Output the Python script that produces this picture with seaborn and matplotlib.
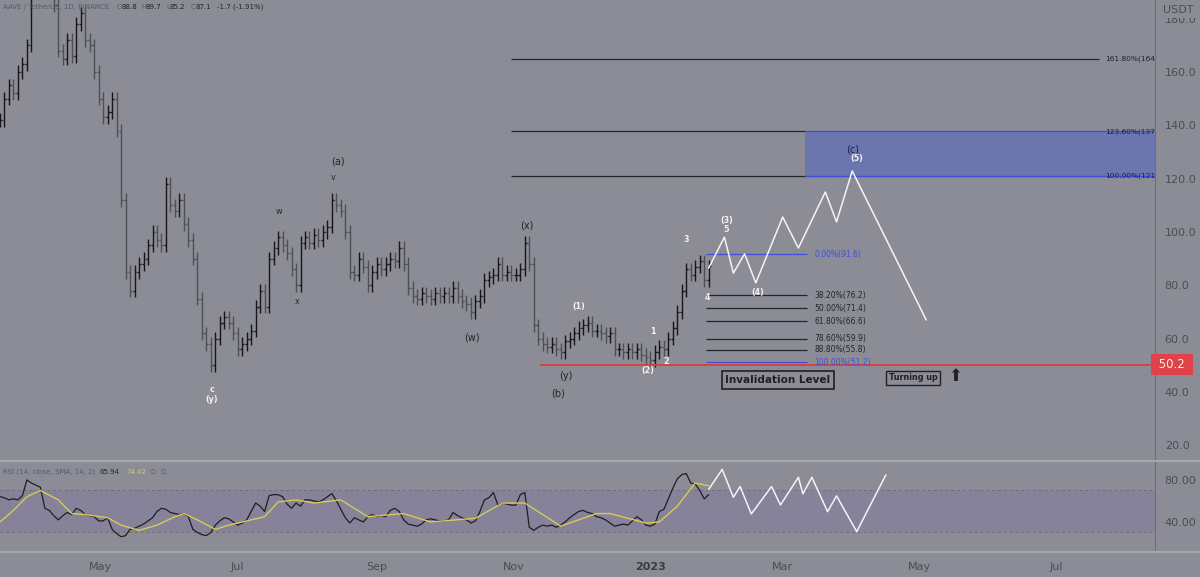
import numpy as np
import pandas as pd
import matplotlib
matplotlib.use("Agg")
import matplotlib.pyplot as plt
import matplotlib.dates as mdates
from matplotlib.lines import Line2D
from matplotlib.ticker import FuncFormatter, FixedLocator
import seaborn as sns

# ---- data ----
# 2-day OHLC closes, AAVE/USDT from 2022-03-17
closes = [142, 150, 155, 152, 160, 163, 170, 195, 215, 225,
          210, 195, 185, 168, 165, 172, 166, 178, 182, 172,
          170, 160, 150, 143, 145, 150, 138, 112, 85, 78,
          85, 88, 90, 95, 100, 97, 95, 118, 110, 108,
          112, 103, 97, 90, 75, 62, 58, 50, 60, 66,
          68, 66, 62, 56, 58, 60, 63, 72, 78, 72,
          90, 94, 98, 95, 92, 86, 80, 96, 98, 96,
          99, 97, 100, 102, 112, 110, 108, 100, 85, 84,
          90, 87, 80, 85, 88, 86, 88, 90, 89, 94,
          88, 79, 76, 75, 77, 76, 75, 77, 76, 77,
          76, 79, 76, 74, 73, 70, 74, 76, 82, 83,
          84, 88, 84, 85, 84, 84, 86, 96, 88, 65,
          60, 58, 57, 58, 56, 55, 59, 60, 62, 64,
          65, 66, 63, 63, 62, 61, 62, 56, 56, 55,
          56, 55, 56, 54, 53, 52, 55, 57, 56, 60,
          64, 70, 78, 86, 84, 87, 89, 82, 87.1]

rsi = [64, 63, 61, 62, 61, 65, 80, 77, 75, 73,
       53, 51, 46, 42, 46, 49, 47, 53, 51, 47,
       46, 45, 41, 41, 44, 33, 29, 26, 27, 33,
       34, 36, 38, 41, 44, 50, 53, 52, 49, 48,
       47, 48, 45, 33, 30, 28, 27, 30, 37, 41,
       44, 43, 40, 37, 39, 42, 50, 58, 55, 50,
       65, 66, 66, 64, 57, 53, 58, 55, 61, 61,
       60, 59, 61, 64, 67, 60, 52, 44, 39, 44,
       42, 40, 45, 47, 45, 46, 45, 51, 53, 50,
       42, 38, 37, 36, 38, 42, 43, 42, 41, 41,
       42, 49, 46, 44, 42, 39, 41, 50, 61, 63,
       68, 56, 58, 57, 56, 56, 66, 68, 35, 32,
       35, 37, 36, 37, 35, 37, 40, 44, 47, 50,
       51, 49, 48, 45, 44, 42, 39, 36, 37, 38,
       37, 41, 45, 42, 37, 36, 38, 50, 52, 62,
       72, 81, 85, 86, 77, 76, 70, 62, 65.94]

# RSI-based MA, sampled at bar numbers
rsi_ma_bar = [0, 3, 6, 9, 13, 16, 19, 24, 27, 31, 35, 39, 41, 44, 48, 51, 54, 59,
              62, 66, 70, 76, 82, 90, 96, 106, 112, 117, 125, 133, 136, 144, 147,
              151, 155, 158]
rsi_ma = [40, 51, 64, 70, 61, 48, 47, 44, 37, 32, 37, 45, 48, 42, 33, 37, 40, 45,
          59, 61, 58, 61, 45, 48, 40, 43.5, 58, 58, 36, 48, 48, 39, 40,
          55, 77, 74.42]

# projected wave path
proj_dates = ["2023-01-27", "2023-02-03", "2023-02-07", "2023-02-12", "2023-02-17",
              "2023-03-01", "2023-03-08", "2023-03-20", "2023-03-25", "2023-04-01",
              "2023-05-04"]
proj_price = [86.5, 98.1, 84.6, 91.8, 80.9, 105.6, 94.0, 115.0, 103.8, 122.9, 67.0]

rsi_proj_dates = ["2023-01-27", "2023-02-02", "2023-02-07", "2023-02-10", "2023-02-15",
                  "2023-02-24", "2023-02-28", "2023-03-08", "2023-03-10", "2023-03-14",
                  "2023-03-21", "2023-03-25", "2023-04-03", "2023-04-16"]
rsi_proj = [71, 90, 63.5, 73.7, 47.6, 73.7, 56.2, 82.5, 66.7, 82.5, 49.8, 64.8, 30.8, 84.8]

ext_levels = [121.0, 137.7, 164.8]
ext_labels = ["100.00%(121.0)", "123.60%(137.7)", "161.80%(164.8)"]
ret_levels = [91.6, 76.2, 71.4, 66.6, 59.9, 55.8, 51.2]
ret_labels = ["0.00%(91.6)", "38.20%(76.2)", "50.00%(71.4)", "61.80%(66.6)",
              "78.60%(59.9)", "88.80%(55.8)", "100.00%(51.2)"]
invalidation = 50.2
price_ticks = [20, 40, 60, 80, 100, 120, 140, 160, 180]
rsi_ticks = [40, 80]

# ---- style ----
BG = "#8b8c96"
AXC = "#4c4c55"
DARK = "#24242c"
WHITE = "#f2f2f2"
BLUE = "#3f4fd8"

sns.set_style("white", rc={"axes.facecolor": BG, "figure.facecolor": BG})
plt.rcParams["font.family"] = ["DejaVu Sans"]

fig = plt.figure(figsize=(12, 5.77), dpi=100)
W = 1155 / 1200
ax = fig.add_axes([0, 117 / 577, W, 460 / 577])
rax = fig.add_axes([0, 26 / 577, W, 89 / 577], sharex=ax)

dates = pd.date_range("2022-03-17", periods=len(closes), freq="2D")
c = np.array(closes, dtype=float)
o = np.r_[c[0], c[:-1]]
WICK = 2.5
hi = np.maximum(o, c) + WICK
lo = np.minimum(o, c) - WICK
up = c >= o
half = pd.Timedelta(hours=20)

for mask, col in [(up, "#16161b"), (~up, "#4f4f58")]:
    d = dates[mask]
    ax.vlines(d, lo[mask], hi[mask], color=col, lw=1.0)
    ax.hlines(o[mask], d - half, d, color=col, lw=1.0)
    ax.hlines(c[mask], d, d + half, color=col, lw=1.0)

t0 = pd.Timestamp("2022-03-17")
t1 = pd.Timestamp("2023-08-14")
ax.set_xlim(t0, t1)
ax.set_ylim(14.5, 187)

# fib extension
ext_start = pd.Timestamp("2022-10-31")
box_start = pd.Timestamp("2023-03-11")
ax.axhspan(ext_levels[0], ext_levels[1], xmin=(box_start - t0) / (t1 - t0), xmax=1,
           color="#6673b4", alpha=0.85, lw=0)
for lv in ext_levels[:2]:
    ax.hlines(lv, ext_start, box_start, color=DARK, lw=0.9)
    ax.hlines(lv, box_start, t1, color=BLUE, lw=1.0)
ax.hlines(ext_levels[2], ext_start, pd.Timestamp("2023-07-20"), color=DARK, lw=0.9)
lab_x = pd.Timestamp("2023-07-23")
for lv, lab in zip(ext_levels, ext_labels):
    ax.text(lab_x, lv, lab, fontsize=5.3, color="#1d1f3a", va="center", ha="left",
            clip_on=True)

# fib retracement
r0 = pd.Timestamp("2023-01-26")
r1 = pd.Timestamp("2023-03-12")
for lv, lab in zip(ret_levels, ret_labels):
    col = BLUE if lab.startswith(("0.00", "100.00")) else DARK
    ax.hlines(lv, r0, r1, color=col, lw=0.9)
    ax.text(pd.Timestamp("2023-03-15"), lv, lab, fontsize=5.5, color=col, va="center")

# invalidation line
ax.hlines(invalidation, pd.Timestamp("2022-11-13"), t1, color="#e23a3a", lw=1.3)

# projected path
proj = pd.DataFrame({"date": pd.to_datetime(proj_dates), "price": proj_price})
sns.lineplot(data=proj, x="date", y="price", color="#f4f4f4", lw=1.1, ax=ax)


def px(x, y):
    return x / 1155, 1 - y / 460


waves = [("(a)", 338, 162, DARK), ("v", 333, 178, DARK), ("w", 279, 212, DARK),
         ("x", 297, 301, DARK), ("c", 212, 389, WHITE), ("(y)", 212, 400, WHITE),
         ("(x)", 527, 225, DARK), ("(w)", 472, 337, DARK), ("(1)", 579, 307, WHITE),
         ("(y)", 566, 376, DARK), ("(b)", 558, 394, DARK), ("1", 653, 331, WHITE),
         ("2", 666, 361, WHITE), ("(2)", 648, 371, WHITE), ("3", 686, 239, WHITE),
         ("4", 707, 297, WHITE), ("(3)", 727, 220, WHITE), ("5", 726, 229, WHITE),
         ("(4)", 758, 293, WHITE), ("(c)", 853, 150, "#1c2145"), ("(5)", 857, 159, WHITE)]
for t, x, y, col in waves:
    big = t in ("(a)", "(x)", "(w)", "(y)", "(b)", "(c)") and col != WHITE
    ax.text(*px(x, y), t, transform=ax.transAxes, ha="center", va="center",
            color=col, fontsize=7 if big else 5.8,
            fontweight="normal" if col != WHITE else "bold")

ax.text(*px(778, 380), "Invalidation Level", transform=ax.transAxes, ha="center",
        va="center", fontsize=7.5, fontweight="bold", color="#1f1f25",
        bbox=dict(boxstyle="square,pad=0.35", fc=BG, ec="#1f1f25", lw=1.2))
ax.text(*px(913, 378), "Turning up", transform=ax.transAxes, ha="center",
        va="center", fontsize=5.8, fontweight="bold", color="#1f1f25",
        bbox=dict(boxstyle="square,pad=0.3", fc=BG, ec="#1f1f25", lw=1.0))
ax.text(*px(955, 376), "\u2b06", transform=ax.transAxes, ha="center", va="center",
        fontsize=12, color="#1f1f25")

# header
hdr = [("AAVE / TetherUS, 1D, BINANCE", 3, "#5a5a64"), ("O", 117, "#5a5a64"),
       ("88.8", 122, DARK), ("H", 141, "#5a5a64"), ("89.7", 146, DARK),
       ("L", 166, "#5a5a64"), ("85.2", 170, DARK), ("C", 191, "#5a5a64"),
       ("87.1", 196, DARK), ("-1.7 (-1.91%)", 217, DARK)]
for t, x, col in hdr:
    ax.text(*px(x, 7), t, transform=ax.transAxes, fontsize=5.0, color=col,
            va="center", ha="left")

# price axis
ax.yaxis.tick_right()
ax.yaxis.set_major_locator(FixedLocator(price_ticks))
ax.yaxis.set_major_formatter(FuncFormatter(lambda v, p: f"{v:.1f}"))
ax.tick_params(axis="y", length=0, pad=7, labelsize=8, labelcolor=AXC)
ax.tick_params(axis="x", length=0, labelbottom=False)
ax.text(1.007, 1 - 10 / 460, "USDT", transform=ax.transAxes, fontsize=8, color=AXC,
        va="center", ha="left", bbox=dict(fc=BG, ec="none", pad=2.5), zorder=5,
        clip_on=False)
ax.text(1.0, invalidation, " 50.2 ", transform=ax.get_yaxis_transform(),
        fontsize=8.5, color="#fbeee0", va="center", ha="left", clip_on=False,
        bbox=dict(boxstyle="square,pad=0.35", fc="#e0424c", ec="none"), zorder=6)

# ---- RSI pane ----
rax.set_ylim(12.4, 97)
rax.axhspan(30, 70, color="#86829a", lw=0)
for lv in (30, 70):
    rax.axhline(lv, color="#6f6f7a", lw=0.7, dashes=(3, 3))
rsi_df = pd.DataFrame({"date": dates, "rsi": rsi})
sns.lineplot(data=rsi_df, x="date", y="rsi", color="#1e1e24", lw=0.9, ax=rax)
ma_df = pd.DataFrame({"date": dates[rsi_ma_bar], "ma": rsi_ma})
sns.lineplot(data=ma_df, x="date", y="ma", color="#d6cb55", lw=1.0, ax=rax)
rp = pd.DataFrame({"date": pd.to_datetime(rsi_proj_dates), "rsi": rsi_proj})
sns.lineplot(data=rp, x="date", y="rsi", color="#f4f4f4", lw=1.1, ax=rax)

rax.yaxis.tick_right()
rax.yaxis.set_major_locator(FixedLocator(rsi_ticks))
rax.yaxis.set_major_formatter(FuncFormatter(lambda v, p: f"{v:.2f}"))
rax.tick_params(axis="y", length=0, pad=7, labelsize=8, labelcolor=AXC)

rax.xaxis.set_major_locator(mdates.MonthLocator(bymonth=[1, 3, 5, 7, 9, 11]))
rax.xaxis.set_major_formatter(FuncFormatter(
    lambda v, p: mdates.num2date(v).strftime("%Y" if mdates.num2date(v).month == 1 else "%b")))
rax.tick_params(axis="x", length=0, pad=8, labelsize=8, labelcolor=AXC)
fig.canvas.draw()
for lab in rax.get_xticklabels():
    if lab.get_text().isdigit():
        lab.set_fontweight("bold")
        lab.set_color("#3a3a42")

rtxt = [("RSI (14, close, SMA, 14, 2)", 3, "#5a5a64"), ("65.94", 100, DARK),
        ("74.42", 126, "#d6cb55"), ("\u2205  \u2205", 150, "#5a5a64")]
for t, x, col in rtxt:
    rax.text(x / 1155, 1 - 10 / 89, t, transform=rax.transAxes, fontsize=5.0,
             color=col, va="center", ha="left")

for a in (ax, rax):
    a.set_xlabel("")
    a.set_ylabel("")
    for s in a.spines.values():
        s.set_visible(False)
    a.spines["right"].set_visible(True)
    a.spines["right"].set_color("#6e6e78")
    a.spines["right"].set_linewidth(0.8)

for y in (461, 552):
    fig.add_artist(Line2D([0, 1], [1 - y / 577] * 2, color="#a6a6ae", lw=1.5))

fig.savefig("out.png", dpi=100, facecolor=BG)
